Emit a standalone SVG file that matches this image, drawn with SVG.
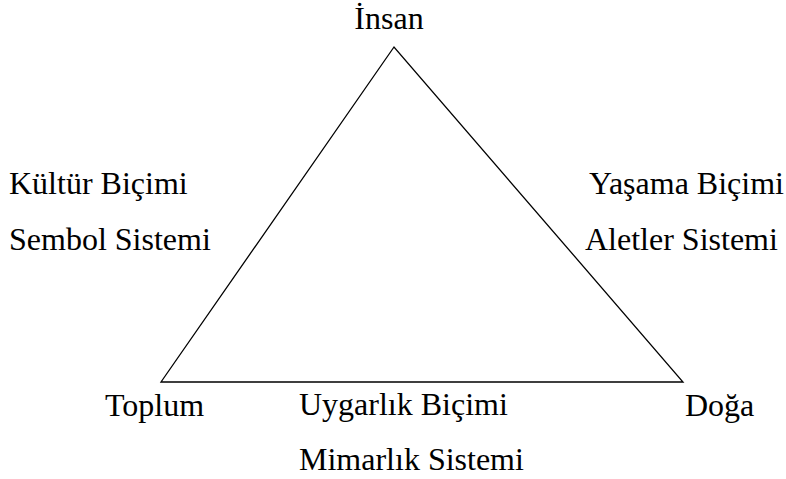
<svg xmlns="http://www.w3.org/2000/svg" width="786" height="479" viewBox="0 0 786 479">
<style>
text { font-family: "Liberation Serif", "Times New Roman", serif; font-size: 32px; fill: #000; }
.edge { fill: none; stroke: #000; stroke-width: 1.3; }
</style>
<rect width="786" height="479" fill="#fff"/>
<g id="connectors">
<polygon class="edge" points="394,47 161,382 683,382"/>
</g>
<g id="insan"><text x="389" y="29" text-anchor="middle">İnsan</text></g>
<g id="toplum"><text x="105" y="416">Toplum</text></g>
<g id="doga"><text x="685" y="416">Doğa</text></g>
<g id="kultur">
<text x="9" y="194">Kültür Biçimi</text>
<text x="9" y="250">Sembol Sistemi</text>
</g>
<g id="yasama">
<text x="589" y="194">Yaşama Biçimi</text>
<text x="585" y="250">Aletler Sistemi</text>
</g>
<g id="uygarlik">
<text x="299" y="415">Uygarlık Biçimi</text>
<text x="299" y="470">Mimarlık Sistemi</text>
</g>
</svg>
